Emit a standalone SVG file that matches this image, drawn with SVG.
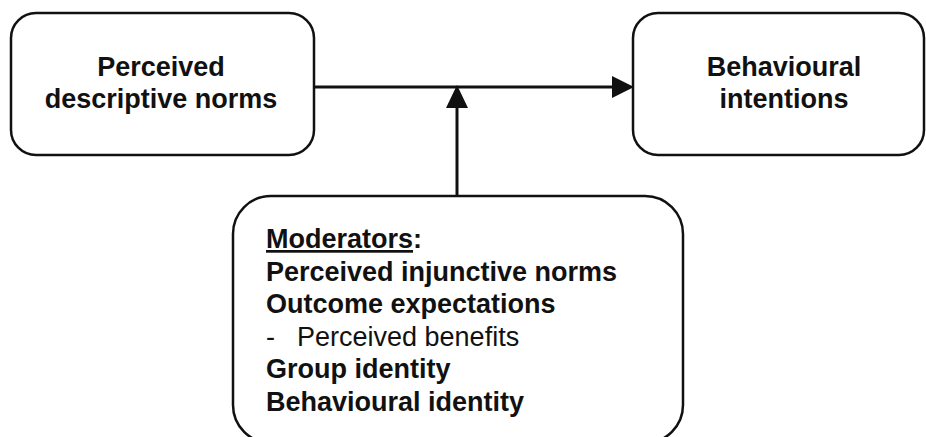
<svg xmlns="http://www.w3.org/2000/svg" width="926" height="437" viewBox="0 0 926 437">
<style>
.box{fill:#fff;stroke:#111;stroke-width:2.5}
.t{font-family:"Liberation Sans",Arial,sans-serif;font-size:27px;fill:#111}
.b{font-weight:bold}
.c{text-anchor:middle}
.ln{stroke:#111;stroke-width:3;fill:none}
.ah{fill:#111}
</style>
<rect width="926" height="437" fill="#fff"/>
<g id="connectors">
<line class="ln" x1="314" y1="87" x2="614" y2="87"/>
<polygon class="ah" points="612,76 634,87 612,98"/>
<line class="ln" x1="457" y1="196" x2="457" y2="106"/>
<polygon class="ah" points="446,108 457,85 468,108"/>
</g>
<g id="node-descriptive">
<rect class="box" x="11" y="13" width="303" height="142" rx="25"/>
<text class="t b c" x="161" y="76">Perceived</text>
<text class="t b c" x="161" y="108">descriptive norms</text>
</g>
<g id="node-intentions">
<rect class="box" x="633" y="13" width="291" height="142" rx="25"/>
<text class="t b c" x="784" y="76">Behavioural</text>
<text class="t b c" x="784" y="108">intentions</text>
</g>
<g id="node-moderators">
<rect class="box" x="233" y="196" width="450" height="247" rx="38"/>
<text class="t b" x="266" y="248"><tspan text-decoration="underline">Moderators</tspan>:</text>
<text class="t b" x="266" y="280.6">Perceived injunctive norms</text>
<text class="t b" x="266" y="313.2">Outcome expectations</text>
<text class="t" x="266" y="345.8">-</text>
<text class="t" x="297" y="345.8">Perceived benefits</text>
<text class="t b" x="266" y="378.4">Group identity</text>
<text class="t b" x="266" y="411">Behavioural identity</text>
</g>
</svg>
